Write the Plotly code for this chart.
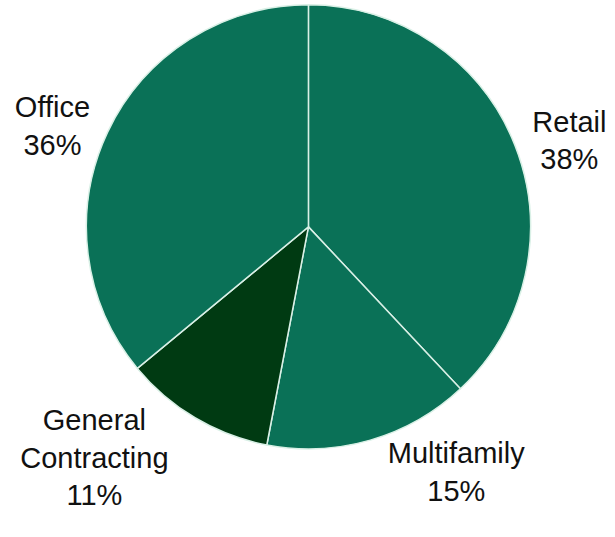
import plotly.graph_objects as go

labels = ["Retail", "Multifamily", "General<br>Contracting", "Office"]
values = [38, 15, 11, 36]
colors = ["#0a7157", "#0a7157", "#003a12", "#0a7157"]

fig = go.Figure(go.Pie(
    labels=labels,
    values=values,
    sort=False,
    direction="clockwise",
    rotation=0,
    marker=dict(colors=colors, line=dict(color="#d9f0e6", width=1.5)),
    textinfo="label+percent",
    textposition="outside",
    texttemplate="%{label}<br>%{percent:.0%}",
    textfont=dict(family="Liberation Sans, Arial, sans-serif", size=29, color="#111111"),
    domain=dict(x=[0.14, 0.863], y=[0.164, 0.991]),
    showlegend=False,
    hoverinfo="label+percent",
))

fig.update_layout(
    width=615, height=537,
    margin=dict(l=0, r=0, t=0, b=0),
    paper_bgcolor="white",
    plot_bgcolor="white",
)

fig.write_html("out.html")
